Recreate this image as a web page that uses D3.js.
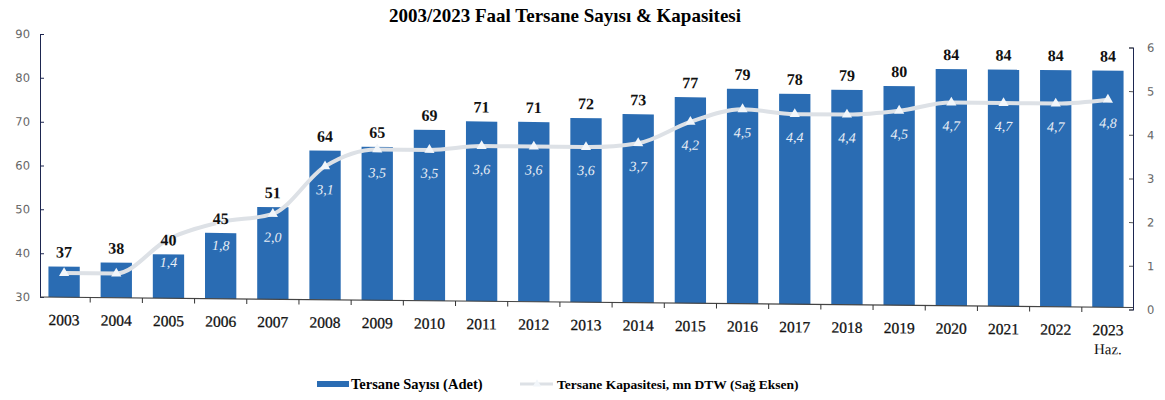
<!DOCTYPE html>
<html>
<head>
<meta charset="utf-8">
<script src="https://cdn.jsdelivr.net/npm/d3@7"></script>
<style>
  body { margin: 0; background: #fff; }
  text { font-family: "Liberation Serif", "Times New Roman", serif; }
  .tickText { font-family: "DejaVu Sans", Verdana, sans-serif; font-size: 11.5px; fill: #666; }
</style>
</head>
<body>
<div id="chart"></div>
<script>
// data
var years = ["2003","2004","2005","2006","2007","2008","2009","2010","2011","2012","2013",
             "2014","2015","2016","2017","2018","2019","2020","2021","2022","2023"];
var yardCount = [37,38,40,45,51,64,65,69,71,71,72,73,77,79,78,79,80,84,84,84,84];
var capacity = [0.6,0.6,1.4,1.8,2.0,3.1,3.5,3.5,3.6,3.6,3.6,3.7,4.2,4.5,4.4,4.4,4.5,4.7,4.7,4.7,4.8];
var capLabels = ["","","1,4","1,8","2,0","3,1","3,5","3,5","3,6","3,6","3,6","3,7","4,2","4,5","4,4","4,4","4,5","4,7","4,7","4,7","4,8"];
var leftTicks = [30,40,50,60,70,80,90];
var rightTicks = [0,1,2,3,4,5,6];

var svgWidth = 1165;
var svgHeight = 400;
var barColor = "#2a6cb3";
var lineColor = "#dde1e6";

var svg = d3.select("#chart")
            .append("svg")
            .attr("width", svgWidth)
            .attr("height", svgHeight);

// title
svg.append("text")
   .attr("x", 565)
   .attr("y", 22)
   .attr("text-anchor", "middle")
   .style("font-size", "19px")
   .style("font-weight", "bold")
   .text("2003/2023 Faal Tersane Sayısı & Kapasitesi");

// the scanned chart leans a little, so the plot gets a small skew
var chartGroup = svg.append("g")
                    .attr("transform", "translate(40,0) skewY(0.55) translate(-40,0)");

var xScale = d3.scaleBand()
               .domain(years)
               .range([38, 1134])
               .paddingInner(0.4)
               .paddingOuter(0.2);

var yLeft = d3.scaleLinear().domain([30, 90]).range([297, 34]);
var yRight = d3.scaleLinear().domain([0, 6]).range([299, 37]);

// bars
chartGroup.append("g").selectAll("rect")
  .data(yardCount)
  .enter()
  .append("rect")
  .attr("x", (d, i) => xScale(years[i]))
  .attr("y", d => yLeft(d))
  .attr("width", xScale.bandwidth())
  .attr("height", d => yLeft(30) - yLeft(d))
  .attr("fill", barColor);

// capacity line
var line = d3.line()
  .x((d, i) => xScale(years[i]) + xScale.bandwidth() / 2)
  .y(d => yRight(d))
  .curve(d3.curveMonotoneX);

chartGroup.append("path")
  .datum(capacity)
  .attr("d", line)
  .attr("fill", "none")
  .attr("stroke", lineColor)
  .attr("stroke-width", 4);

chartGroup.append("g").selectAll("path")
  .data(capacity)
  .enter()
  .append("path")
  .attr("d", d3.symbol().type(d3.symbolTriangle).size(45))
  .attr("transform", (d, i) => `translate(${xScale(years[i]) + xScale.bandwidth() / 2}, ${yRight(d)})`)
  .attr("fill", "#f2f6fa");

chartGroup.append("g").selectAll("text")
  .data(capacity)
  .enter()
  .append("text")
  .attr("x", (d, i) => xScale(years[i]) + xScale.bandwidth() / 2)
  .attr("y", d => yRight(d) + 28)
  .attr("text-anchor", "middle")
  .style("font-size", "14px")
  .style("font-style", "italic")
  .style("fill", "#e8eef6")
  .text((d, i) => capLabels[i]);

// bar value labels, drawn over the line
chartGroup.append("g").selectAll("text")
  .data(yardCount)
  .enter()
  .append("text")
  .attr("x", (d, i) => xScale(years[i]) + xScale.bandwidth() / 2)
  .attr("y", d => yLeft(d) - 9)
  .attr("text-anchor", "middle")
  .style("font-size", "16px")
  .style("font-weight", "bold")
  .style("fill", "#111")
  .text(d => d);

// left axis
var leftAxis = chartGroup.append("g")
  .attr("transform", "translate(40,0)")
  .call(d3.axisLeft(yLeft).tickValues(leftTicks).tickSize(-4).tickPadding(10));
leftAxis.select(".domain").attr("stroke", "#1d2650");
leftAxis.selectAll("line").attr("stroke", "#1d2650");
leftAxis.selectAll("text").attr("class", "tickText").attr("x", -10);

// right axis
var rightAxis = chartGroup.append("g")
  .attr("transform", "translate(1133,0)")
  .call(d3.axisRight(yRight).tickValues(rightTicks).tickFormat(d3.format("d")).tickSize(-4).tickPadding(12));
rightAxis.select(".domain").attr("stroke", "#1d2650");
rightAxis.selectAll("line").attr("stroke", "#555");
rightAxis.selectAll("text").attr("class", "tickText").attr("x", 14);

// x axis with ticks between categories
var step = xScale.step();
var bottomAxis = chartGroup.append("g")
  .attr("transform", `translate(0, ${yLeft(30)})`);
bottomAxis.append("line")
  .attr("x1", 40).attr("x2", 1133)
  .attr("stroke", "#444").attr("stroke-width", 1.2);
bottomAxis.selectAll("line.tick")
  .data(years.slice(1))
  .enter()
  .append("line")
  .attr("class", "tick")
  .attr("x1", d => xScale(d) - step * 0.2)
  .attr("x2", d => xScale(d) - step * 0.2)
  .attr("y1", 0).attr("y2", 5)
  .attr("stroke", "#333");
bottomAxis.selectAll("text.year")
  .data(years)
  .enter()
  .append("text")
  .attr("class", "year")
  .attr("x", d => xScale(d) + xScale.bandwidth() / 2)
  .attr("y", 28)
  .attr("text-anchor", "middle")
  .style("font-size", "15.5px")
  .style("fill", "#111")
  .style("stroke", "#111")
  .style("stroke-width", 0.3)
  .text(d => d);
bottomAxis.append("text")
  .attr("x", xScale("2023") + xScale.bandwidth() / 2)
  .attr("y", 47)
  .attr("text-anchor", "middle")
  .style("font-size", "15px")
  .style("fill", "#111")
  .text("Haz.");

// legend
var legend = svg.append("g");
legend.append("rect")
  .attr("x", 317).attr("y", 381)
  .attr("width", 32).attr("height", 6)
  .attr("fill", barColor);
legend.append("text")
  .attr("x", 351).attr("y", 389)
  .style("font-size", "14.5px")
  .style("font-weight", "bold")
  .text("Tersane Sayısı (Adet)");
legend.append("line")
  .attr("x1", 520).attr("x2", 553)
  .attr("y1", 384).attr("y2", 384)
  .attr("stroke", lineColor).attr("stroke-width", 3);
legend.append("path")
  .attr("d", d3.symbol().type(d3.symbolTriangle).size(30))
  .attr("transform", "translate(537,384)")
  .attr("fill", "#f2f6fa");
legend.append("text")
  .attr("x", 557).attr("y", 389)
  .style("font-size", "13.5px")
  .style("font-weight", "bold")
  .text("Tersane Kapasitesi, mn DTW (Sağ Eksen)");
</script>
</body>
</html>
